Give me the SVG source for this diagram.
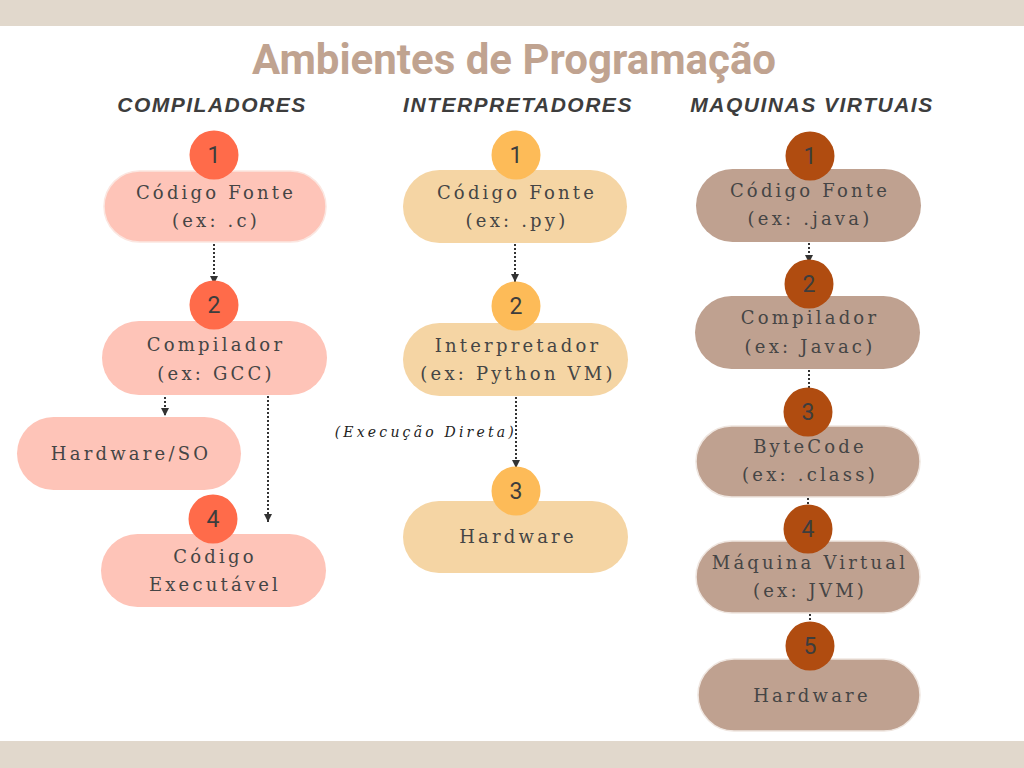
<svg xmlns="http://www.w3.org/2000/svg" width="1024" height="768" viewBox="0 0 1024 768">
<defs>
<style>
.title{font-family:Roboto,"Liberation Sans",sans-serif;font-weight:700;font-size:42px;fill:#c0a390}
.hdr{font-family:"Liberation Sans",Arial,sans-serif;font-weight:700;font-style:italic;font-size:21px;letter-spacing:1.5px;fill:#3d3d3d}
.lbl{font-family:"DejaVu Serif","Liberation Serif",serif;font-size:18px;letter-spacing:3.2px;fill:#454545;text-anchor:middle}
.num{font-family:Roboto,"Liberation Sans",sans-serif;font-size:23px;fill:#3d3d3d;text-anchor:middle}
.note{font-family:"DejaVu Serif","Liberation Serif",serif;font-style:italic;font-size:14px;letter-spacing:3.2px;fill:#222;text-anchor:end}
.c1{fill:#fec4b8}
.c2{fill:#f5d5a4}
.c3{fill:#bfa190}
.k1{fill:#ff6b4a}
.k2{fill:#fdbb58}
.k3{fill:#b04c10}
.edge{stroke:#fbe6e0;stroke-width:1.5}
.edge3{stroke:#efe6e0;stroke-width:1.5}
.conn{stroke:#333;stroke-width:2;stroke-dasharray:2 2;fill:none}
</style>
<marker id="ah" markerUnits="userSpaceOnUse" markerWidth="8" markerHeight="8" refX="8" refY="4" orient="auto" viewBox="0 0 8 8">
<path d="M0,0 L8,4 L0,8 z" fill="#333"/>
</marker>
</defs>
<rect x="0" y="0" width="1024" height="768" fill="#ffffff"/>
<rect x="0" y="0" width="1024" height="26" fill="#e1d8cc"/>
<rect x="0" y="741" width="1024" height="27" fill="#e1d8cc"/>
<text class="title" x="514" y="74" text-anchor="middle">Ambientes de Programação</text>
<text class="hdr" x="212" y="112" text-anchor="middle">COMPILADORES</text>
<text class="hdr" x="518" y="112" text-anchor="middle">INTERPRETADORES</text>
<text class="hdr" x="812" y="112" text-anchor="middle">MAQUINAS VIRTUAIS</text>

<g id="connectors">
<line class="conn" x1="214" y1="244" x2="214" y2="284" marker-end="url(#ah)"/>
<line class="conn" x1="165" y1="397" x2="165" y2="416" marker-end="url(#ah)"/>
<line class="conn" x1="268" y1="396" x2="268" y2="522" marker-end="url(#ah)"/>
<line class="conn" x1="515" y1="244" x2="515" y2="282" marker-end="url(#ah)"/>
<line class="conn" x1="516" y1="397" x2="516" y2="468" marker-end="url(#ah)"/>
<line class="conn" x1="809" y1="243" x2="809" y2="263" marker-end="url(#ah)"/>
<line class="conn" x1="809" y1="370" x2="809" y2="392"/>
<line class="conn" x1="808" y1="498" x2="808" y2="508"/>
<line class="conn" x1="810" y1="614" x2="810" y2="624"/>
<text class="note" x="517" y="437">(Execução Direta)</text>
</g>

<g id="comp-1">
<rect class="c1 edge" x="104" y="171" width="222" height="71" rx="35.5"/>
<circle class="k1" cx="214" cy="155" r="24.5"/>
<text class="num" x="214" y="163">1</text>
<text class="lbl" x="216" y="199">Código Fonte</text>
<text class="lbl" x="216" y="227">(ex: .c)</text>
</g>
<g id="comp-2">
<rect class="c1" x="102" y="321" width="225" height="74" rx="37"/>
<circle class="k1" cx="214" cy="305" r="24.5"/>
<text class="num" x="214" y="313">2</text>
<text class="lbl" x="216" y="351">Compilador</text>
<text class="lbl" x="216" y="380">(ex: GCC)</text>
</g>
<g id="comp-hw">
<rect class="c1" x="17" y="417" width="224" height="73" rx="36.5"/>
<text class="lbl" x="131" y="460">Hardware/SO</text>
</g>
<g id="comp-4">
<rect class="c1" x="101" y="534" width="225" height="73" rx="36.5"/>
<circle class="k1" cx="213" cy="519" r="24.5"/>
<text class="num" x="213" y="527">4</text>
<text class="lbl" x="215" y="563">Código</text>
<text class="lbl" x="215" y="591">Executável</text>
</g>

<g id="interp-1">
<rect class="c2" x="403" y="170" width="224" height="73" rx="36.5"/>
<circle class="k2" cx="516" cy="155" r="24.5"/>
<text class="num" x="516" y="163">1</text>
<text class="lbl" x="517" y="199">Código Fonte</text>
<text class="lbl" x="517" y="227">(ex: .py)</text>
</g>
<g id="interp-2">
<rect class="c2" x="403" y="323" width="225" height="73" rx="36.5"/>
<circle class="k2" cx="516" cy="306" r="24.5"/>
<text class="num" x="516" y="314">2</text>
<text class="lbl" x="518" y="352">Interpretador</text>
<text class="lbl" x="518" y="380">(ex: Python VM)</text>
</g>
<g id="interp-3">
<rect class="c2" x="403" y="501" width="225" height="72" rx="36"/>
<circle class="k2" cx="516" cy="491" r="24.5"/>
<text class="num" x="516" y="499">3</text>
<text class="lbl" x="518" y="543">Hardware</text>
</g>

<g id="vm-1">
<rect class="c3" x="696" y="169" width="225" height="73" rx="36.5"/>
<circle class="k3" cx="810" cy="156" r="24.5"/>
<text class="num" x="810" y="164">1</text>
<text class="lbl" x="810" y="197">Código Fonte</text>
<text class="lbl" x="810" y="225">(ex: .java)</text>
</g>
<g id="vm-2">
<rect class="c3" x="695" y="296" width="225" height="73" rx="36.5"/>
<circle class="k3" cx="809" cy="284" r="24.5"/>
<text class="num" x="809" y="292">2</text>
<text class="lbl" x="810" y="324">Compilador</text>
<text class="lbl" x="810" y="353">(ex: Javac)</text>
</g>
<g id="vm-3">
<rect class="c3 edge3" x="696" y="426" width="224" height="71" rx="35.5"/>
<circle class="k3" cx="808" cy="412" r="24.5"/>
<text class="num" x="808" y="420">3</text>
<text class="lbl" x="810" y="453">ByteCode</text>
<text class="lbl" x="810" y="481">(ex: .class)</text>
</g>
<g id="vm-4">
<rect class="c3 edge3" x="696" y="541" width="224" height="72" rx="36"/>
<circle class="k3" cx="808" cy="529" r="24.5"/>
<text class="num" x="808" y="537">4</text>
<text class="lbl" x="810" y="569">Máquina Virtual</text>
<text class="lbl" x="810" y="597">(ex: JVM)</text>
</g>
<g id="vm-5">
<rect class="c3 edge3" x="698" y="659" width="222" height="72" rx="36"/>
<circle class="k3" cx="810" cy="646" r="24.5"/>
<text class="num" x="810" y="654">5</text>
<text class="lbl" x="812" y="702">Hardware</text>
</g>
</svg>
